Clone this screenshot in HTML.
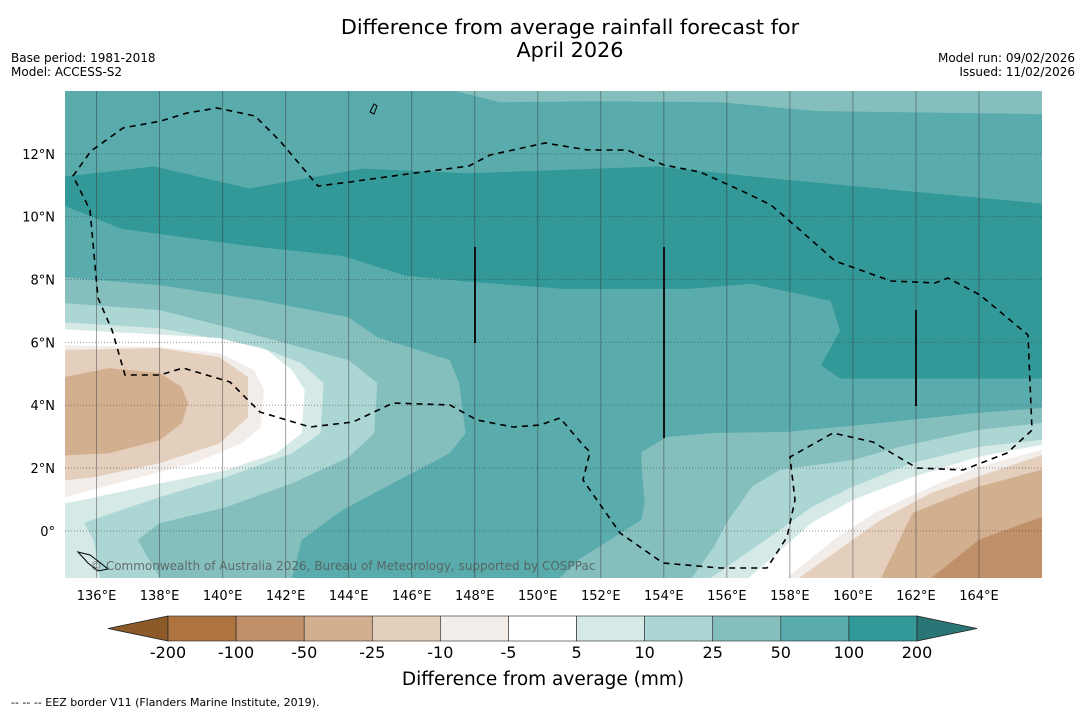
<!DOCTYPE html>
<html><head><meta charset="utf-8">
<style>
html,body{margin:0;padding:0;background:#fff;}
body{width:1085px;height:713px;overflow:hidden;font-family:"Liberation Sans","DejaVu Sans",sans-serif;}
svg text{font-family:"DejaVu Sans","Liberation Sans",sans-serif;}
</style></head>
<body>
<svg id="chart" width="1085" height="713" viewBox="0 0 1085 713" xmlns="http://www.w3.org/2000/svg">
<text x="570" y="34" text-anchor="middle" font-size="20.8" fill="#000">Difference from average rainfall forecast for</text>
<text x="570" y="57" text-anchor="middle" font-size="20.8" fill="#000">April 2026</text>
<text x="11" y="62" font-size="12">Base period: 1981-2018</text>
<text x="11" y="76" font-size="12">Model: ACCESS-S2</text>
<text x="1075" y="62" font-size="12" text-anchor="end">Model run: 09/02/2026</text>
<text x="1075" y="76" font-size="12" text-anchor="end">Issued: 11/02/2026</text>
<defs><clipPath id="plotclip"><rect x="65" y="91" width="977" height="487"/></clipPath></defs>
<g id="plot" clip-path="url(#plotclip)"></g>
<g id="overlay" clip-path="url(#plotclip)">
<path d="M73,176 L91,151 L123,128 L161,121 L187,113 L217,108 L255,116 L280,141 L318,186 L350,182 L400,175 L469,166 L490,155 L545,143 L588,150 L627,150 L664,165 L700,172 L740,190 L771,205 L800,230 L835,261 L891,281 L935,283 L948,278 L980,295 L1028,335 L1032,430 L1030,432 L1007,453 L963,470 L917,468 L873,442 L833,433 L790,457 L795,500 L787,537 L767,568 L720,568 L663,563 L620,533 L583,480 L590,452 L583,445 L560,418 L540,425 L513,427 L477,420 L450,405 L393,403 L353,422 L310,427 L260,412 L230,382 L183,368 L160,375 L125,375 L112,330 L98,298 L90,210 Z" fill="none" stroke="#000" stroke-width="1.6" stroke-dasharray="6,5"/>
<line x1="475" y1="247" x2="475" y2="343" stroke="#111" stroke-width="2"/>
<line x1="664" y1="247" x2="664" y2="438" stroke="#111" stroke-width="2"/>
<line x1="916" y1="310" x2="916" y2="406" stroke="#111" stroke-width="2"/>
<path d="M370,112 l4,-8 l3,2 l-3,8 z" fill="none" stroke="#000" stroke-width="1"/>
<path d="M78,552 l12,3 l8,6 l10,8 l-10,2 l-10,-8 z" fill="none" stroke="#000" stroke-width="1"/>
<text x="90" y="570" font-size="12" fill="#555" opacity="0.8">© Commonwealth of Australia 2026, Bureau of Meteorology, supported by COSPPac</text>
</g>
<g id="axes"></g>
<g id="colorbar"></g>
<text x="543" y="685" text-anchor="middle" font-size="18.5">Difference from average (mm)</text>
<text x="11" y="706" font-size="11">--  --  -- EEZ border V11 (Flanders Marine Institute, 2019).</text>
</svg>
<script>
// colour levels
const levelLabels = ["-200","-100","-50","-25","-10","-5","5","10","25","50","100","200"];
const levelColors = ["#ad7440","#bf906a","#d2af8f","#e4cfbd","#f3ede9","#ffffff","#d5e9e7","#acd6d4","#84bfbe","#5aabab","#329898"];
const underColor = "#8c5a29";
const overColor = "#2a7575";
// map extent
const lonMin = 135, lonMax = 166, latMin = -1.5, latMax = 14;
const lonTicks = [136,138,140,142,144,146,148,150,152,154,156,158,160,162,164];
const latTicks = [0,2,4,6,8,10,12];
// contour regions: [colour index, [lon,lat] points]
const bandTop = [8,[[147.4,14],[148.8,13.65],[151.8,13.68],[155.8,13.65],[158.8,13.37],[166,13.27],[166,14]]];
const bandDark = [10,[[135,11.27],[137.83,11.59],[140.84,10.89],[144.43,11.52],[147.83,11.37],[153.79,11.59],[156.81,11.27],[160.81,10.89],[166,10.41],[166,4.86],[159.6,4.86],[159.0,5.27],[159.6,6.38],[159.3,7.33],[156.8,7.87],[154.8,7.71],[150.8,7.71],[147.8,7.94],[145.8,8.13],[143.8,8.76],[140.8,9.08],[136.8,9.62],[135,10.35]]];
const left25 = [8,[[135,8.06],[138,7.81],[141.2,7.33],[144,6.79],[144.9,6.16],[147.2,5.43],[147.5,4.7],[147.7,3.11],[147.2,2.48],[145.4,1.52],[143.8,0.67],[142.5,-0.29],[142.2,-1.5],[135,-1.5]]];
const right25 = [8,[[150.7,-1.5],[151.3,-0.92],[153.3,0.35],[153.4,0.89],[153.3,2.03],[153.3,2.51],[154.1,2.98],[155.6,3.11],[157.9,3.14],[160.9,3.43],[164,3.75],[166,3.9],[166,-1.5]]];
const left10 = [7,[[135,7.24],[138,7.02],[140.1,6.48],[142.8,5.75],[144,5.43],[144.9,4.7],[144.8,3.11],[144,2.35],[142.2,1.52],[140.1,0.76],[138,0.25],[137.3,-0.29],[138,-1.5],[135,-1.5]]];
const right10 = [7,[[154.9,-1.5],[155.6,-0.5],[156,0.25],[156.8,1.4],[157.7,1.94],[160,2.25],[161.5,2.67],[164,3.21],[166,3.43],[166,-1.5]]];
const left5 = [6,[[135,6.63],[138,6.44],[141.2,5.84],[142.5,5.33],[143.2,4.7],[143.1,3.11],[142.2,2.48],[140.1,1.71],[138,1.08],[136.1,0.44],[135.6,0.25],[135.9,-0.29],[136.1,-1.5],[135,-1.5]]];
const right5 = [6,[[155.5,-1.5],[157.7,0.03],[158.7,0.76],[160,1.4],[161.9,2.16],[164,2.67],[166,2.89],[166,-1.5]]];
const leftWhite = [5,[[135,6.41],[139.9,6.13],[141.4,5.75],[142.2,5.11],[142.6,4.48],[142.5,3.11],[141.7,2.48],[140.1,1.94],[138,1.52],[135.5,0.98],[135,0.89]]];
const rightWhite = [5,[[156.7,-1.5],[158.7,0.25],[160,0.98],[161.9,1.71],[164,2.35],[166,2.73],[166,-1.5]]];
const leftM10 = [4,[[135,5.9],[138,5.84],[139.9,5.65],[141,5.11],[141.3,4.48],[141.2,3.3],[140.6,2.79],[139.1,2.16],[137,1.62],[135,1.08]]];
const rightM10 = [4,[[157.9,-1.5],[159.4,-0.29],[160.7,0.57],[162.5,1.4],[164,2.03],[166,2.57],[166,-1.5]]];
const leftM25 = [3,[[135,5.75],[138,5.81],[139.9,5.52],[140.8,4.89],[140.8,3.62],[139.9,2.79],[138,2.16],[135.9,1.71],[135,1.62]]];
const rightM25 = [3,[[158.3,-1.5],[160.9,0.35],[162.5,1.21],[166,2.41],[166,-1.5]]];
const leftM50 = [2,[[135,4.89],[136.4,5.17],[138,5.02],[138.7,4.57],[138.9,4.06],[138.7,3.43],[138,2.89],[136.4,2.48],[135,2.41]]];
const rightM50 = [2,[[160.9,-1.5],[161.9,0.57],[164,1.4],[166,1.94],[166,-1.5]]];
const rightM100 = [1,[[162.5,-1.5],[164,-0.29],[166,0.44],[166,-1.5]]];
const regions = [bandTop,bandDark,left25,right25,left10,right10,left5,right5,leftWhite,rightWhite,leftM10,rightM10,leftM25,rightM25,leftM50,rightM50,rightM100];
const regionNames = ["band-25-50-top","band-100-200","band-25-50-west","band-25-50-east","band-10-25-west","band-10-25-east","band-5-10-west","band-5-10-east","band-neutral-west","band-neutral-east","band-m10-m5-west","band-m10-m5-east","band-m25-m10-west","band-m25-m10-east","band-m50-m25-west","band-m50-m25-east","band-m100-m50-east"];

const PX0=65, PX1=1042, PY0=91, PY1=578;
function xs(lon){return PX0+(lon-lonMin)/(lonMax-lonMin)*(PX1-PX0);}
function ys(lat){return PY1-(lat-latMin)/(latMax-latMin)*(PY1-PY0);}
const NS="http://www.w3.org/2000/svg";
function mk(tag,attrs,parent){const e=document.createElementNS(NS,tag);for(const k in attrs)e.setAttribute(k,attrs[k]);parent.appendChild(e);return e;}

const plot=document.getElementById('plot');
const bg=mk('rect',{x:PX0,y:PY0,width:PX1-PX0,height:PY1-PY0,fill:levelColors[9]},plot);


regions.forEach((r,i)=>{
  const pts=r[1].map(p=>xs(p[0]).toFixed(1)+","+ys(p[1]).toFixed(1)).join(" ");
  const p=mk('polygon',{points:pts,fill:levelColors[r[0]],stroke:levelColors[r[0]],'stroke-width':0.5},plot);
  
  
});
// grid
const axes=document.getElementById('axes');
lonTicks.forEach(l=>{
  const g=mk('line',{x1:xs(l),x2:xs(l),y1:PY0,y2:PY1,stroke:'#333','stroke-opacity':0.45,'stroke-width':1},plot);
  
  
  const t=mk('text',{x:xs(l),y:600,'text-anchor':'middle','font-size':13},axes);
  t.textContent=l+"°E";
  
  
});
latTicks.forEach(l=>{
  const g=mk('line',{x1:PX0,x2:PX1,y1:ys(l),y2:ys(l),stroke:'#333','stroke-opacity':0.5,'stroke-width':1,'stroke-dasharray':'1,2'},plot);
  
  
  const t=mk('text',{x:55,y:ys(l)+5,'text-anchor':'end','font-size':13},axes);
  t.textContent=l===0?"0°":l+"°N";
  
  
});
// colorbar
const cb=document.getElementById('colorbar');
const CB0=168, CBW=(917-168)/levelColors.length, CY=616, CH=25;
const lt=mk('polygon',{points:`${CB0},${CY} ${CB0},${CY+CH} 108,${CY+CH/2}`,fill:underColor,stroke:'#222','stroke-width':0.8},cb);


levelColors.forEach((c,i)=>{
  const r=mk('rect',{x:CB0+i*CBW,y:CY,width:CBW,height:CH,fill:c,stroke:'#222','stroke-width':0.6},cb);
  
  
});
const rt=mk('polygon',{points:`917,${CY} 917,${CY+CH} 977,${CY+CH/2}`,fill:overColor,stroke:'#222','stroke-width':0.8},cb);


levelLabels.forEach((s,i)=>{
  const t=mk('text',{x:CB0+i*CBW,y:658,'text-anchor':'middle','font-size':16},cb);
  t.textContent=s;
  
  
});
</script>
</body></html>
